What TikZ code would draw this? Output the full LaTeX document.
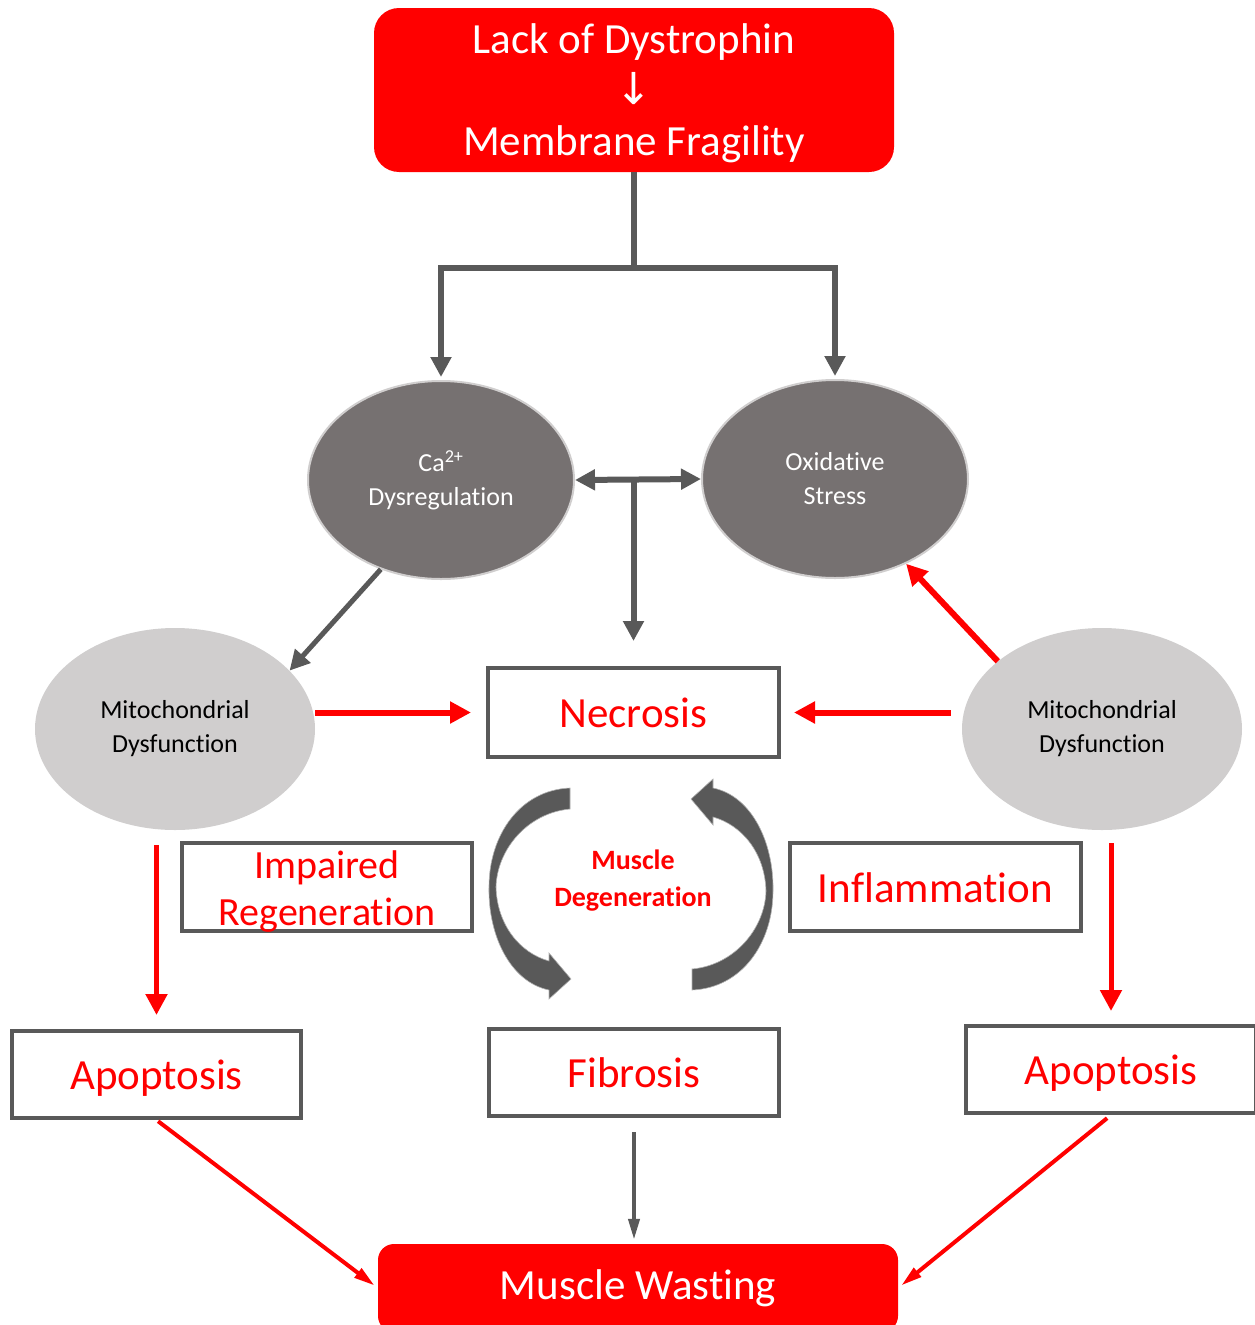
\documentclass[tikz,border=0pt]{standalone}
\usepackage{fontspec}
\setmainfont{Carlito}[Ligatures=NoCommon]
\newfontfamily\arrowfont{DejaVu Sans}
\usetikzlibrary{arrows.meta,shapes.geometric,calc}
\definecolor{boxgray}{HTML}{595959}
\definecolor{ovaldark}{HTML}{767171}
\definecolor{ovalrim}{HTML}{D0CECE}
\definecolor{ovallight}{HTML}{D0CECE}
\begin{document}
\begin{tikzpicture}[x=1pt, y=-1pt,
  redbox/.style={rectangle, fill=red, text=white, inner sep=0pt, align=center},
  cellbox/.style={rectangle, draw=boxgray, line width=4pt, fill=white, text=red,
    minimum width=291pt, minimum height=89pt, inner sep=0pt, align=center},
  onerow/.style={cellbox, font=\fontsize{43}{48}\selectfont, text height=34pt, text depth=4pt},
  darkoval/.style={ellipse, fill=ovaldark, draw=ovalrim, line width=2pt, text=white,
    minimum width=266pt, minimum height=198pt, inner sep=0pt, align=center,
    font=\fontsize{26}{34}\selectfont},
  lightoval/.style={ellipse, fill=ovallight, text=black,
    minimum width=280pt, minimum height=202pt, inner sep=0pt, align=center,
    font=\fontsize{26}{34}\selectfont},
  grayline/.style={draw=boxgray, line width=6pt},
  grayarrow/.style={grayline, -{Triangle[width=20pt, length=20pt]}},
  redarrow/.style={draw=red, line width=6pt, -{Triangle[width=21pt, length=21pt]}},
  thinarrow/.style={line width=4pt, -{Triangle[width=11pt, length=21pt]}}]
  \useasboundingbox (0,0) rectangle (1254,1325);
  % top of the cascade
  \node[redbox, rounded corners=25pt, minimum width=520pt, minimum height=164pt,
    text height=140pt, text depth=9pt, font=\fontsize{43}{51}\selectfont] (dys) at (634,90)
    {Lack of Dystrophin\\{\arrowfont\fontsize{44}{51}\selectfont ↓}\\Membrane Fragility};
  \node[darkoval] (ca) at (441,480) {Ca\textsuperscript{2+}\\Dysregulation};
  \node[darkoval] (oxi) at (835,479) {Oxidative\\Stress};
  \coordinate (split) at (dys.south |- 0,268);
  \draw[grayline] (dys.south) -- (split);
  \draw[grayarrow, shorten >=3pt] (split) -| (ca.north);
  \draw[grayarrow, shorten >=3pt] (split) -| (oxi.north);
  \draw[grayline, {Triangle[width=20pt, length=20pt]}-{Triangle[width=20pt, length=20pt]}]
    (ca.east) -- (oxi.west);
  % middle row
  \node[lightoval] (mitoL) at (175,729) {Mitochondrial\\Dysfunction};
  \node[lightoval] (mitoR) at (1102,729) {Mitochondrial\\Dysfunction};
  \node[onerow] (necrosis) at (633.5,712.5) {Necrosis};
  \draw[grayarrow, shorten >=25pt] (ca.east -| necrosis) -- (necrosis.north);
  \draw[grayline, line width=5pt, -{Triangle[width=20pt, length=20pt]}] (ca.236) -- (mitoL.27);
  \draw[redarrow] (mitoR.147) -- (oxi.310);
  \draw[redarrow, shorten >=15pt] (mitoL.east |- necrosis.west) -- (necrosis.west);
  \draw[redarrow, shorten <=11pt, shorten >=13pt] (mitoR.west |- necrosis.east) -- (necrosis.east);
  % degeneration cycle
  \node[text=red, align=center, font=\bfseries\fontsize{28}{37}\selectfont] (degen) at (633,881)
    {Muscle\\Degeneration};
  \foreach \r in {0,180}
    \fill[boxgray, draw=gray!60, line width=0.6pt, rotate around={\r:(631,889)}]
      (570,788) -- (570,809) .. controls (527,813) and (497,850) .. (496,887)
      .. controls (497,925) and (520,953) .. (549,961) -- (549,953) -- (571,979)
      -- (549,999) -- (549,990) .. controls (510,982) and (488,935) .. (489,887)
      .. controls (489,835) and (520,790) .. (570,788) -- cycle;
  \node[cellbox, minimum width=290pt, minimum height=88pt, text height=82pt, text depth=5pt,
    font=\fontsize{40}{47}\selectfont] (regen) at (327,887) {Impaired\\Regeneration};
  \node[onerow, minimum height=88pt] (inflam) at (935.5,887) {Inflammation};
  % lower row
  \node[onerow, minimum width=289pt, minimum height=87pt] (apoL) at (156.5,1074.5) {Apoptosis};
  \node[onerow, minimum width=290pt, minimum height=87pt] (fib) at (634,1072.5) {Fibrosis};
  \node[onerow, minimum width=290pt, minimum height=87pt] (apoR) at (1111,1069.5) {Apoptosis};
  \draw[redarrow, line width=5pt, shorten <=15pt, shorten >=14pt] (apoL.north |- mitoL.south) -- (apoL.north);
  \draw[redarrow, line width=5pt, shorten <=13pt, shorten >=13pt] (apoR.north |- mitoR.south) -- (apoR.north);
  % outcome
  \node[redbox, rounded corners=16pt, minimum width=520pt, minimum height=88pt,
    font=\fontsize{43}{48}\selectfont] (waste) at (638,1288) {Muscle Wasting};
  \draw[thinarrow, draw=boxgray, shorten <=14pt, shorten >=4pt] (fib.south) -- (fib.south |- waste.north);
  \draw[thinarrow, draw=red, shorten <=2pt, shorten >=4pt] (apoL.south) -- (waste.west);
  \draw[thinarrow, draw=red, shorten <=5pt, shorten >=4pt] (apoR.south) -- (waste.east);
\end{tikzpicture}
\end{document}
